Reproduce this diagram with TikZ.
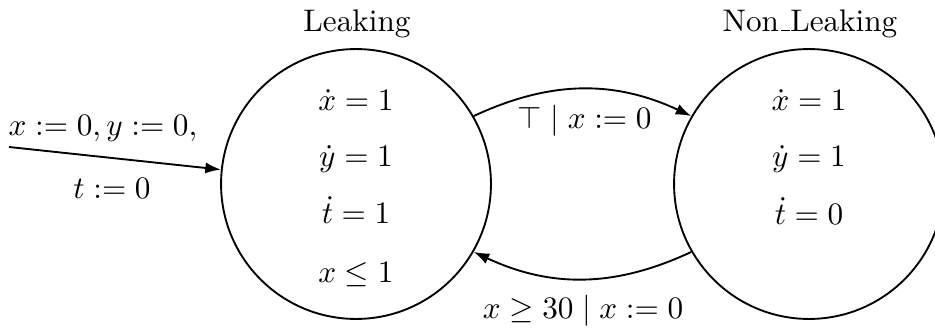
\documentclass[tikz,border=0pt]{standalone}
\usetikzlibrary{arrows.meta}
\begin{document}
\begin{tikzpicture}[x=0.3205pt,y=-0.3205pt,
  statebox/.style={circle,draw,line width=0.6pt,minimum size=86.5pt,inner sep=0pt},
  edge/.style={line width=0.6pt,-{Latex[length=5pt,width=3.6pt]}},
  txt/.style={anchor=base,inner sep=0pt}]
\useasboundingbox (0,0) rectangle (935,327);
\node[statebox] (L) at (356,184) {};
\node[statebox] (R) at (809,184) {};
\node[txt] (Lname) at (357,31.5) {Leaking};
\node[txt] (Rname) at (810,31.5) {Non\kern.06em\vbox{\hrule width .3em height 0.5pt}Leaking};
\node[txt] (L1) at (356,110.5) {$\dot x = 1$};
\node[txt] (L2) at (356,167) {$\dot y = 1$};
\node[txt] (L3) at (356,223.5) {$\dot t = 1$};
\node[txt] (L4) at (356,282) {$x \leq 1$};
\node[txt] (R1) at (809,110.5) {$\dot x = 1$};
\node[txt] (R2) at (809,167) {$\dot y = 1$};
\node[txt] (R3) at (809,224) {$\dot t = 0$};
\coordinate (init) at (9,147);
\draw[edge] (init) -- (L);
\node[txt] (i1) at (103,135) {$x := 0, y := 0,$};
\node[txt] (i2) at (112,198) {$t := 0$};
\draw[edge] (L.30) to[bend left=25] (R.150);
\draw[edge] (R.210) to[bend left=25] (L.330);
\node[txt] (e1) at (584.5,128) {$\top \mid x := 0$};
\node[txt] (e2) at (583,318) {$x \geq 30 \mid x := 0$};
\end{tikzpicture}
\end{document}
